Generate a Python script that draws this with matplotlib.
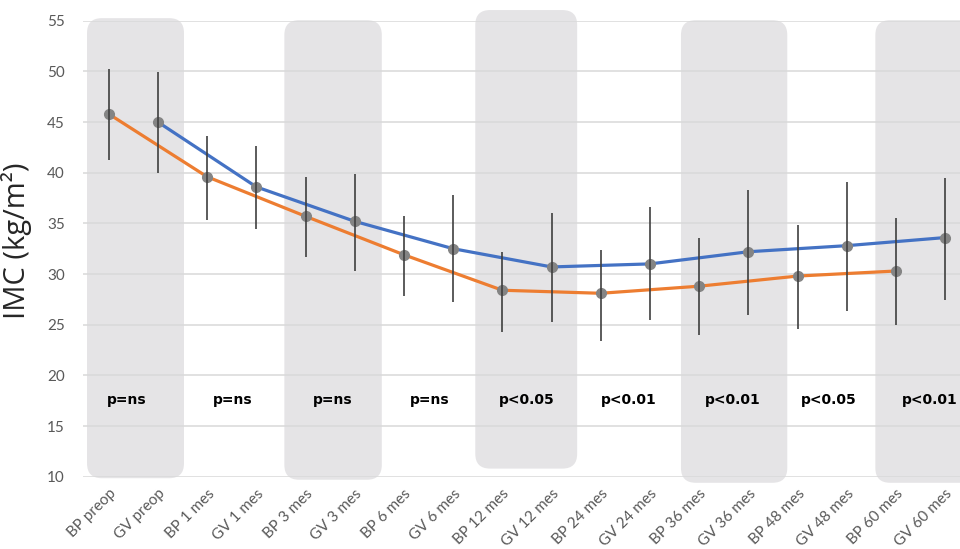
import matplotlib
matplotlib.use("Agg")
import matplotlib.pyplot as plt
from matplotlib.patches import FancyBboxPatch

# ---------------- data ----------------
categories = ["BP preop", "GV preop", "BP 1 mes", "GV 1 mes", "BP 3 mes", "GV 3 mes",
              "BP 6 mes", "GV 6 mes", "BP 12 mes", "GV 12 mes", "BP 24 mes", "GV 24 mes",
              "BP 36 mes", "GV 36 mes", "BP 48 mes", "GV 48 mes", "BP 60 mes", "GV 60 mes"]

bp_mean = [45.8, 39.6, 35.7, 31.9, 28.4, 28.1, 28.8, 29.8, 30.3]
bp_low = [41.3, 35.3, 31.7, 27.8, 24.3, 23.4, 24.0, 24.6, 25.0]
bp_high = [50.2, 43.6, 39.6, 35.7, 32.2, 32.4, 33.6, 34.8, 35.5]

gv_mean = [45.0, 38.6, 35.2, 32.5, 30.7, 31.0, 32.2, 32.8, 33.6]
gv_low = [40.0, 34.4, 30.3, 27.2, 25.3, 25.5, 26.0, 26.4, 27.4]
gv_high = [49.9, 42.6, 39.9, 37.8, 36.0, 36.6, 38.3, 39.1, 39.5]

p_labels = ["p=ns", "p=ns", "p=ns", "p=ns", "p<0.05", "p<0.01", "p<0.01", "p<0.05", "p<0.01"]

yticks = [10, 15, 20, 25, 30, 35, 40, 45, 50, 55]

# ---------------- style ----------------
BLUE = "#4472C4"
ORANGE = "#ED7D31"
MARKER = "#848484"
ERR = "#3f3f3f"
SHADE = "#e5e4e6"
GRID = "#d9d9d9"
TICK = "#595959"

# shaded rounded bands (x0, x1, y0, y1)
bands = [(-0.44, 1.53, 9.85, 55.25), (3.57, 5.55, 9.7, 55.05), (7.45, 9.52, 10.8, 56.05),
         (11.63, 13.79, 9.4, 55.05), (15.58, 17.8, 9.4, 55.05)]
p_offsets = [-0.13, 0.01, 0.06, 0.03, 0.0, 0.06, 0.19, 0.14, 0.19]

fig = plt.figure(figsize=(9.6, 5.49), dpi=100)
ax = fig.add_axes([83 / 960, (549 - 476.7) / 549, 877 / 960, 456 / 549])

x_bp = [2 * i for i in range(len(bp_mean))]
x_gv = [2 * i + 1 for i in range(len(gv_mean))]

ax.set_xlim(-0.522, 17.30)
ax.set_ylim(10, 55)

px_per_x = 877 / (17.30 + 0.522)
px_per_y = 456 / 45.0
for (x0, x1, y0, y1) in bands:
    patch = FancyBboxPatch((x0, y0), x1 - x0, y1 - y0,
                           boxstyle="round,pad=0,rounding_size=0.3",
                           mutation_aspect=px_per_x / px_per_y,
                           facecolor=SHADE, edgecolor="none", zorder=0.2,
                           clip_on=False, transform=ax.transData)
    ax.add_patch(patch)

ax.set_axisbelow(True)
ax.yaxis.grid(True, color=GRID, lw=1.1)
ax.set_yticks(yticks)

# lines
ax.plot(x_bp, bp_mean, color=ORANGE, lw=2.3, zorder=3, solid_capstyle="round")
ax.plot(x_gv, gv_mean, color=BLUE, lw=2.3, zorder=3, solid_capstyle="round")
# markers
ax.plot(x_bp, bp_mean, ls="none", marker="o", ms=7, color=MARKER, zorder=4)
ax.plot(x_gv, gv_mean, ls="none", marker="o", ms=7, color=MARKER, zorder=4)
# error bars
ax.vlines(x_bp, bp_low, bp_high, color=ERR, lw=1.2, zorder=5)
ax.vlines(x_gv, gv_low, gv_high, color=ERR, lw=1.2, zorder=5)

# p-value labels
for i, lab in enumerate(p_labels):
    ax.text(2 * i + 0.5 + p_offsets[i], 17.55, lab, ha="center", va="center",
            fontsize=10, fontweight="bold", color="black",
            family=["DejaVu Sans"], zorder=6)

for s in ax.spines.values():
    s.set_visible(False)

ax.set_xticks(range(len(categories)))
ax.set_xticklabels(categories, rotation=45, ha="right", rotation_mode="anchor",
                   fontsize=11, color=TICK, family=["Lato", "DejaVu Sans"])
ax.tick_params(axis="x", length=0, pad=7)
ax.tick_params(axis="y", length=0, pad=13, labelsize=11, labelcolor=TICK)
for t in ax.get_yticklabels():
    t.set_family(["Lato", "DejaVu Sans"])

fig.text(17 / 960, (549 - 241) / 549, "IMC (kg/m²)", rotation=90, ha="center",
         va="center", fontsize=21, color="#262626", family=["Open Sans", "DejaVu Sans"])

fig.savefig("out.png", dpi=100)
